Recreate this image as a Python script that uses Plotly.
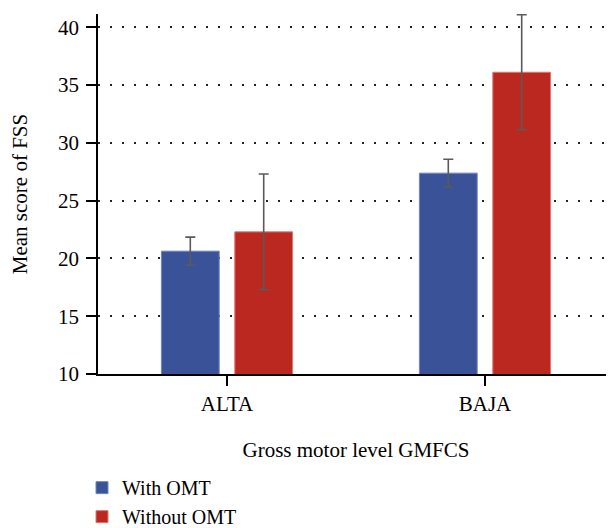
import plotly.graph_objects as go

categories = ["ALTA", "BAJA"]
with_omt = [20.63, 27.38]
with_omt_err = [1.21, 1.2]
without_omt = [22.3, 36.11]
without_omt_err = [5.0, 4.98]
series_names = ["With OMT", "Without OMT"]
y_ticks = [10, 15, 20, 25, 30, 35, 40]

FONT = "Liberation Serif"
BLUE = "#3a5298"
RED = "#bb281f"

fig = go.Figure()
fig.add_trace(go.Bar(
    x=categories, y=with_omt, name=series_names[0],
    marker=dict(color=BLUE, line=dict(color="#7186c0", width=1)),
    error_y=dict(type="data", array=with_omt_err, color="#5a5a5a", thickness=1.6, width=5),
    legendgroup="a",
))
fig.add_trace(go.Bar(
    x=categories, y=without_omt, name=series_names[1],
    marker=dict(color=RED, line=dict(color="#dc7a70", width=1)),
    error_y=dict(type="data", array=without_omt_err, color="#5a5a5a", thickness=1.6, width=5),
    legendgroup="b",
))

# page body has an 8px margin; the figure is extended below the window so the
# legend is not clipped by the figure edge
fig.update_layout(
    width=606, height=540,
    margin=dict(l=90, r=0, t=6, b=173.7, autoexpand=False),
    paper_bgcolor="white", plot_bgcolor="white",
    font=dict(family=FONT, size=21, color="black"),
    barmode="group", bargap=0.431, bargroupgap=0.2125,
    showlegend=True,
    legend=dict(x=-0.031, xanchor="left", y=-0.2615, yanchor="top",
                orientation="v", tracegroupgap=0,
                font=dict(family=FONT, size=20, color="black"),
                bgcolor="rgba(0,0,0,0)"),
    xaxis=dict(
        range=[-0.5, 1.5], showline=True, linecolor="black", linewidth=1.5,
        ticks="outside", ticklen=10, tickwidth=1.5, tickcolor="black",
        showgrid=False, zeroline=False,
        title=dict(text="Gross motor level GMFCS", standoff=27,
                   font=dict(family=FONT, size=21)),
    ),
    yaxis=dict(
        range=[10, 41.15], tickvals=y_ticks, showline=True, linecolor="black", linewidth=1.5,
        ticks="outside", ticklen=10, tickwidth=1.5, tickcolor="black",
        ticklabelstandoff=3,
        showgrid=True, gridcolor="#222", gridwidth=1.5, griddash="1.5px,10.5px",
        zeroline=False,
        title=dict(text="Mean score of FSS", standoff=30,
                   font=dict(family=FONT, size=21)),
    ),
)

fig.write_html("out.html")
